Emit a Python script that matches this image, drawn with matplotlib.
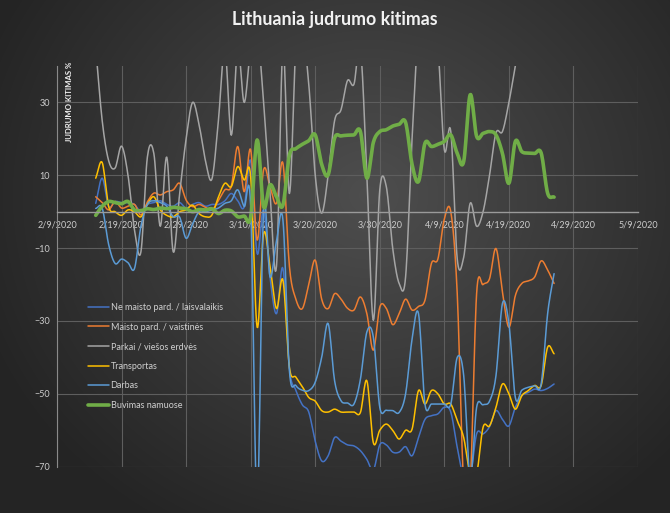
import numpy as np
import matplotlib
matplotlib.use("Agg")
import matplotlib.pyplot as plt
from matplotlib.colors import to_rgb

plt.rcParams['font.family'] = ['Lato', 'DejaVu Sans']

# ---------------- data ----------------
title = "Lithuania judrumo kitimas"
y_label = "JUDRUMO KITIMAS %"
x_tick_labels = ["2/9/2020", "2/19/2020", "2/29/2020", "3/10/2020", "3/20/2020",
                 "3/30/2020", "4/9/2020", "4/19/2020", "4/29/2020", "5/9/2020"]
x_tick_days = [0, 10, 20, 30, 40, 50, 60, 70, 80, 90]      # days since 2/9/2020
y_ticks = [-70, -50, -30, -10, 10, 30]
first_day = 6                                               # 2/15/2020
series_names = ["Ne maisto pard. / laisvalaikis", "Maisto pard. / vaistinės",
                "Parkai / viešos erdvės", "Transportas", "Darbas", "Buvimas namuose"]

ne_maisto = [2.3, 9.2, 1.5, 2.8, 2.5, 2.5, 2.0, 0.0, 2.0, 2.5,
             3.0, 2.0, 1.5, 2.5, 1.0, 2.0, 2.5, 1.5, 2.0, 2.0,
             3.0, 5.0, 3.0, 1.4, 14.0, -11.5, 0.5, -18.0, -28.0, -15.6,
             -43.0, -49.0, -53.0, -55.0, -63.0, -68.4, -67.0, -62.0, -63.0, -64.0,
             -64.3, -65.6, -68.0, -71.0, -64.0, -64.0, -66.0, -66.0, -64.5, -67.0,
             -62.0, -57.0, -56.0, -55.5, -53.7, -55.0, -64.7, -73.0, -73.0, -61.0,
             -61.0, -59.0, -54.6, -57.0, -58.8, -53.7, -50.5, -49.6, -48.7, -49.1,
             -48.5, -47.3]
maisto = [4.1, 2.5, 0.5, 2.8, 1.0, 1.5, 2.0, -0.9, 2.7, 5.1,
          4.6, 5.5, 6.0, 7.8, 3.2, 1.4, 2.0, 1.2, 0.5, 3.0,
          6.0, 7.0, 17.9, 5.5, 17.0, -7.8, 11.5, 6.9, 2.3, 13.3,
          -15.0, -24.0, -26.6, -20.0, -13.3, -24.0, -26.6, -22.5, -24.0, -26.5,
          -27.0, -23.4, -28.0, -38.0, -26.2, -26.5, -31.0, -28.0, -24.0, -27.0,
          -26.0, -24.3, -14.2, -13.0, -2.0, 0.0, -22.5, -75.0, -75.0, -22.5,
          -20.0, -18.4, -10.1, -22.0, -31.7, -23.0, -19.7, -19.0, -17.9, -13.5,
          -16.0, -19.7]
parkai = [45, 25, 14, 12, 18, 10, -5, -11, 15, 16,
          -4, 15, -11, 5, 20, 30, 24, 14, 9, 25,
          45, 21, 45, 30, 45, 50, 30, 5, -15, 45,
          5, 45, 50, 35, 10, -0.4, 10, 25, 28, 36,
          35, 45, 10, -29.8, 6, 7, -10, -19.7, -17.9, 20,
          50, 55, 50, 45, 17, 22, -13, -12.5, 2.3, -4,
          0, 10, 21.6, 22, 30, 40, 50, 55, 60, 55,
          60, 55]
transportas = [9.2, 13.5, 1.4, 0.0, -1.0, 0.5, 0.0, -1.4, 2.0, 4.1,
               0.5, -1.0, -1.4, 0.0, 0.5, 1.8, -0.5, -1.4, -0.9, 4.0,
               7.8, 6.9, 12.4, 8.7, 9.6, -31.7, -6.0, -15.0, -26.6, -18.8,
               -42.7, -45.4, -48.0, -51.0, -52.0, -54.6, -55.0, -54.2, -55.0, -55.0,
               -55.0, -55.1, -46.4, -63.4, -60.0, -58.3, -60.0, -62.4, -60.0, -59.7,
               -49.1, -52.8, -49.1, -50.0, -52.8, -52.8, -57.4, -62.0, -72.0, -72.0,
               -59.2, -58.8, -53.7, -47.3, -50.0, -54.2, -50.5, -49.1, -47.7, -47.7,
               -37.2, -39.0]
darbas = [0.9, 1.0, -9.0, -14.2, -13.0, -14.0, -15.6, -4.0, 2.0, 3.0,
          2.5, 1.5, -1.4, -1.5, -7.3, -3.4, 0.0, 0.0, 0.5, 1.0,
          2.3, 3.0, 6.0, 1.4, 1.4, -80.0, 0.5, -17.9, -8.0, -2.3,
          -43.6, -47.7, -49.0, -49.1, -46.8, -40.0, -30.7, -46.4, -51.9, -52.5,
          -52.8, -46.0, -33.0, -34.4, -53.7, -54.5, -54.6, -55.1, -50.0, -35.0,
          -28.0, -52.8, -52.8, -52.8, -52.8, -52.8, -40.0, -45.0, -73.0, -53.7,
          -53.0, -52.0, -45.0, -25.2, -30.7, -51.0, -49.0, -48.2, -47.8, -47.3,
          -28.0, -17.0]
buvimas = [-1.0, 1.5, 2.8, 2.5, 2.2, 2.8, 0.5, 0.3, 0.8, 0.6,
           1.0, 0.8, 1.2, 1.0, 0.8, 0.0, 0.6, 0.5, 0.8, -0.5,
           0.4, 0.2, -1.4, -1.2, -1.4, 19.7, 1.4, 7.4, 4.1, 1.8,
           15.5, 17.3, 18.5, 19.5, 21.1, 13.0, 10.1, 20.2, 20.8, 21.0,
           21.1, 22.0, 9.2, 19.0, 22.0, 22.5, 23.5, 24.0, 24.5, 13.0,
           8.3, 18.8, 17.9, 18.5, 19.3, 21.1, 16.0, 13.8, 32.1, 20.7,
           21.5, 22.0, 21.1, 16.0, 7.8, 19.3, 16.5, 16.1, 16.0, 16.1,
           5.1, 4.0]

series = [ne_maisto, maisto, parkai, transportas, darbas, buvimas]
colors = ["#4472C4", "#ED7D31", "#A5A5A5", "#FFC000", "#5B9BD5", "#70AD47"]
widths = [1.1, 1.1, 1.1, 1.1, 1.1, 2.6]


def smooth(x, y, n=12):
    """Catmull-Rom smoothing (like Excel 'smoothed line')."""
    x = np.asarray(x, float)
    y = np.asarray(y, float)
    px = np.concatenate([[2 * x[0] - x[1]], x, [2 * x[-1] - x[-2]]])
    py = np.concatenate([[2 * y[0] - y[1]], y, [2 * y[-1] - y[-2]]])
    t = np.linspace(0, 1, n, endpoint=False)
    xs, ys = [], []
    for i in range(1, len(px) - 2):
        for p, out in ((px, xs), (py, ys)):
            p0, p1, p2, p3 = p[i - 1], p[i], p[i + 1], p[i + 2]
            out.append(0.5 * ((2 * p1) + (-p0 + p2) * t +
                              (2 * p0 - 5 * p1 + 4 * p2 - p3) * t ** 2 +
                              (-p0 + 3 * p1 - 3 * p2 + p3) * t ** 3))
    xs.append([x[-1]])
    ys.append([y[-1]])
    return np.concatenate(xs), np.concatenate(ys)


W, H = 670, 513
fig = plt.figure(figsize=(W / 100, H / 100), dpi=100)

# radial dark background
bg = fig.add_axes([0, 0, 1, 1], zorder=-10)
yy, xx = np.mgrid[0:H, 0:W]
r = np.sqrt(((xx - W * 0.55) / (W * 0.62)) ** 2 + ((yy - H * 0.38) / (H * 0.75)) ** 2)
r = np.clip(r, 0, 1)
c_in = np.array(to_rgb("#4e4e4e"))
c_out = np.array(to_rgb("#242424"))
img = c_in[None, None, :] * (1 - r[..., None]) + c_out[None, None, :] * r[..., None]
bg.imshow(img, aspect='auto', extent=[0, 1, 0, 1])
bg.axis('off')

ax = fig.add_axes([57 / W, 1 - 466.7 / H, (638 - 57) / W, (466.7 - 66) / H])
ax.patch.set_alpha(0)

days = np.arange(len(buvimas)) + first_day
for vals, name, col, lw in zip(series, series_names, colors, widths):
    sx, sy = smooth(days, vals)
    ax.plot(sx, sy, color=col, lw=lw, label=name, solid_capstyle='round')

ax.set_xlim(x_tick_days[0], x_tick_days[-1])
ax.set_ylim(-70, 40)
ax.set_xticks(x_tick_days)
ax.set_xticklabels(x_tick_labels)
ax.set_yticks(y_ticks)
ax.tick_params(length=0, labelsize=6.5, colors="#cccccc", pad=5)
ax.tick_params(axis='x', pad=6)
ax.grid(True, color="#5e5e5e", lw=0.8)
ax.set_axisbelow(True)
for s in ['top', 'right']:
    ax.spines[s].set_visible(False)
ax.spines['left'].set_color("#8a8a8a")
ax.spines['bottom'].set_position(('data', 0))
ax.spines['bottom'].set_color("#9a9a9a")
ax.spines['bottom'].set_linewidth(1.0)

fig.text(0.5, 1 - 20 / H, title, ha='center', va='center', color="#f2f2f2",
         fontsize=12.8, fontweight='bold')
fig.text(70 / W, 1 - 62 / H, y_label, rotation=90, ha='center', va='top',
         color="#f2f2f2", fontsize=5.6, fontweight='bold')

leg = ax.legend(loc='upper left', bbox_to_anchor=(88 / W, 1 - 303 / H),
                bbox_transform=fig.transFigure, frameon=False, fontsize=6.5,
                labelcolor="#d0d0d0", handlelength=2.3, handletextpad=0.2,
                labelspacing=1.17, borderpad=0, borderaxespad=0)

fig.savefig("out.png", dpi=100, facecolor="#303030")
